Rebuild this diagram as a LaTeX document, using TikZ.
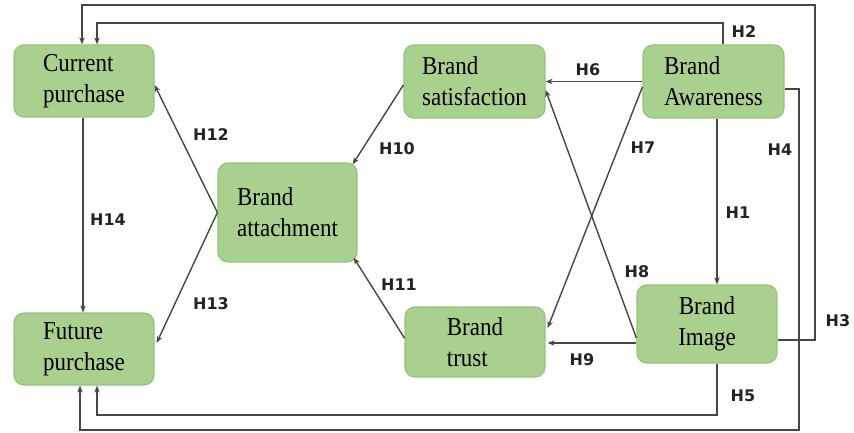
\documentclass[tikz,border=0pt]{standalone}
\usepackage{fontspec}
\setmainfont{Liberation Serif}
\newfontfamily\labelfont{DejaVu Sans}
\usetikzlibrary{arrows.meta}
\definecolor{boxfill}{RGB}{169,208,142}
\definecolor{boxedge}{RGB}{150,195,125}
\definecolor{linecol}{RGB}{70,70,70}
\definecolor{labcol}{RGB}{35,35,35}
\newcommand{\tall}[1]{\scalebox{1}[1.12]{#1}}
\tikzset{
  box/.style={draw=boxedge, line width=1.2pt, fill=boxfill, rounded corners=10pt,
    align=left, font=\fontsize{23}{31}\selectfont, inner sep=0pt},
  arr/.style={draw=linecol, line width=1.4pt, -{Stealth[length=7pt,width=5.5pt]}},
  hlab/.style={font=\labelfont\bfseries\fontsize{16}{18}\selectfont, text=labcol, inner sep=0pt}
}
\begin{document}
\begin{tikzpicture}[x=1pt,y=-1pt]
\useasboundingbox (0,0) rectangle (854,433);
% nodes
\node[box, minimum width=140pt, minimum height=72pt] (cp) at (84,81) {\tall{Current}\\\tall{purchase}};
\node[box, minimum width=140pt, minimum height=72pt] (fp) at (84,349) {\tall{Future}\\\tall{purchase}};
\node[box, minimum width=139pt, minimum height=99pt] (att) at (287.5,212.5) {\tall{Brand}\\\tall{attachment}};
\node[box, minimum width=141pt, minimum height=73pt] (sat) at (474.5,81.5) {\tall{Brand}\\\tall{satisfaction}};
\node[box, minimum width=140pt, minimum height=70pt] (tr) at (475,342) {\tall{Brand}\\\tall{trust}};
\node[box, minimum width=141pt, minimum height=73pt] (aw) at (713.5,81.5) {\tall{Brand}\\\tall{Awareness}};
\node[box, minimum width=140pt, minimum height=78pt, align=center] (img) at (707,324) {\tall{Brand}\\\tall{Image}};
% bend points
\coordinate (h2a) at (723,23);
\coordinate (h2b) at (97,23);
\coordinate (h3a) at (815,340);
\coordinate (h3b) at (815,5);
\coordinate (h3c) at (82,5);
\coordinate (h4a) at (799,89);
\coordinate (h4b) at (799,430);
\coordinate (h4c) at (80,430);
\coordinate (h5a) at (717,415);
\coordinate (h5b) at (97,415);
% connectors
\draw[arr] ([xshift=3.5pt]aw.south) -- ([xshift=10pt]img.north);
\draw[arr] ([xshift=9.5pt]aw.north) -- (h2a) -- (h2b) -- ([xshift=13pt]cp.north);
\draw[arr] ([yshift=-16pt]img.east) -- (h3a) -- (h3b) -- (h3c) -- ([xshift=-2pt]cp.north);
\draw[arr] ([yshift=-7.5pt]aw.east) -- (h4a) -- (h4b) -- (h4c) -- ([xshift=-4pt]fp.south);
\draw[arr] ([xshift=10pt]img.south) -- (h5a) -- (h5b) -- ([xshift=13pt]fp.south);
\draw[arr] (aw.west) -- (sat.east);
\draw[arr] ([yshift=-5.5pt]aw.west) -- ([xshift=2pt,yshift=14pt]tr.east);
\draw[arr] ([yshift=-14pt]img.west) -- ([yshift=-8.5pt]sat.east);
\draw[arr] ([yshift=-19pt]img.west) -- ([xshift=2pt,yshift=-1pt]tr.east);
\draw[arr] ([yshift=-3.5pt]sat.west) -- ([xshift=-5pt,yshift=-2pt]att.north east);
\draw[arr] ([yshift=4pt]tr.west) -- ([xshift=-4pt,yshift=5pt]att.south east);
\draw[arr] (att.west) -- ([yshift=-4pt]cp.east);
\draw[arr] (att.west) -- ([xshift=2pt,yshift=6pt]fp.east);
\draw[arr] ([xshift=-1pt]cp.south) -- ([xshift=-1pt]fp.north);
% labels
\node[hlab] (l1) at (738,213) {H1};
\node[hlab] (l2) at (744,32) {H2};
\node[hlab] (l3) at (838,321) {H3};
\node[hlab] (l4) at (780,150) {H4};
\node[hlab] (l5) at (743,396) {H5};
\node[hlab] (l6) at (588,70) {H6};
\node[hlab] (l7) at (643,148) {H7};
\node[hlab] (l8) at (637,272) {H8};
\node[hlab] (l9) at (582,360) {H9};
\node[hlab] (l10) at (397,149) {H10};
\node[hlab] (l11) at (399,285) {H11};
\node[hlab] (l12) at (211,135) {H12};
\node[hlab] (l13) at (211,304) {H13};
\node[hlab] (l14) at (108,220) {H14};
\end{tikzpicture}
\end{document}
